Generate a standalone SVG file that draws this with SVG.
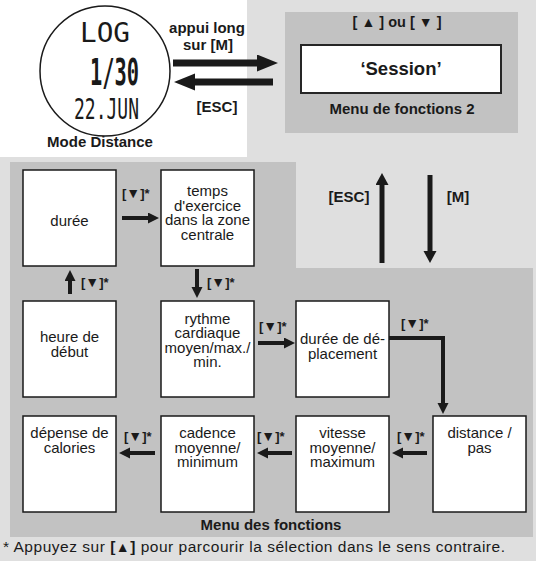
<svg xmlns="http://www.w3.org/2000/svg" width="536" height="561" viewBox="0 0 536 561">
<style>
.t{font-family:"Liberation Sans",Arial,sans-serif;fill:#1a1a1a}
.b{font-weight:bold}
.box{fill:#fff;stroke:#1a1a1a;stroke-width:1.5}
.nt{font-size:15px;text-anchor:middle}
.lb{font-size:13px;font-weight:bold}
.tri{font-size:14px}
.lcd{font-family:"DejaVu Sans Mono","Liberation Mono",monospace;fill:#1a1a1a}
.ar{stroke:#1a1a1a;fill:none}
</style>
<defs>
<marker id="hBig" markerUnits="userSpaceOnUse" markerWidth="22" markerHeight="18" refX="0" refY="8.5" orient="auto"><path d="M0,0 L21,8.5 L0,17 z" fill="#1a1a1a"/></marker>
<marker id="hMid" markerUnits="userSpaceOnUse" markerWidth="13" markerHeight="14" refX="0" refY="6.5" orient="auto"><path d="M0,0 L12,6.5 L0,13 z" fill="#1a1a1a"/></marker>
<marker id="hSm" markerUnits="userSpaceOnUse" markerWidth="12" markerHeight="12" refX="0" refY="5.5" orient="auto"><path d="M0,0 L11,5.5 L0,11 z" fill="#1a1a1a"/></marker>
</defs>

<!-- backgrounds -->
<rect x="0" y="0" width="536" height="561" fill="#dfdfdf"/>
<rect x="0" y="0" width="247" height="157" fill="#fff"/>
<rect x="285" y="12" width="233" height="121" fill="#c2c2c2"/>
<path d="M10,162 H296 V268 H533 V537 H10 Z" fill="#c2c2c2"/>

<!-- watch -->
<g id="watch">
<circle cx="105" cy="71" r="65" fill="#fff" stroke="#1a1a1a" stroke-width="1.5"/>
<text class="lcd" x="80" y="42" font-size="27" textLength="50" lengthAdjust="spacingAndGlyphs">LOG</text>
<text class="lcd" x="90" y="85" font-size="38" font-weight="bold" textLength="49" lengthAdjust="spacingAndGlyphs">1/30</text>
<text class="lcd" x="74" y="119" font-size="29" textLength="65" lengthAdjust="spacingAndGlyphs">22.JUN</text>
<text class="t b" x="100" y="147" font-size="15" text-anchor="middle">Mode Distance</text>
</g>

<!-- menu 2 -->
<g id="menu2">
<text class="t b" x="397" y="27" font-size="14.5" text-anchor="middle">[ <tspan class="tri">▲</tspan> ] ou [ <tspan class="tri">▼</tspan> ]</text>
<rect x="301" y="45" width="200" height="48" fill="#fff" stroke="#262626" stroke-width="2"/>
<text class="t b" x="401" y="75" font-size="18.5" text-anchor="middle">‘Session’</text>
<text class="t b" x="402" y="114" font-size="15" text-anchor="middle">Menu de fonctions 2</text>
</g>

<!-- nodes -->
<g id="duree"><rect class="box" x="23" y="170" width="93" height="96"/><text class="t nt" x="69.5" y="226">durée</text></g>
<g id="temps"><rect class="box" x="161" y="170" width="93" height="96"/><text class="t nt" x="207.5" y="196">temps<tspan x="207.5" dy="14.7">d'exercice</tspan><tspan x="207.5" dy="14.7">dans la zone</tspan><tspan x="207.5" dy="14.7">centrale</tspan></text></g>
<g id="heure"><rect class="box" x="23" y="301" width="93" height="96"/><text class="t nt" x="69.5" y="342">heure de<tspan x="69.5" dy="14.5">début</tspan></text></g>
<g id="rythme"><rect class="box" x="161" y="301" width="93" height="96"/><text class="t nt" x="207.5" y="324">rythme<tspan x="207.5" dy="14.4">cardiaque</tspan><tspan x="207.5" dy="14.4">moyen/max./</tspan><tspan x="207.5" dy="14.4">min.</tspan></text></g>
<g id="deplacement"><rect class="box" x="296" y="301" width="93" height="96"/><text class="t nt" x="342.5" y="344">durée de dé-<tspan x="342.5" dy="14.5">placement</tspan></text></g>
<g id="depense"><rect class="box" x="23" y="416" width="93" height="96"/><text class="t nt" x="69.5" y="438">dépense de<tspan x="69.5" dy="14.7">calories</tspan></text></g>
<g id="cadence"><rect class="box" x="161" y="416" width="93" height="96"/><text class="t nt" x="207.5" y="438">cadence<tspan x="207.5" dy="14.7">moyenne/</tspan><tspan x="207.5" dy="14.7">minimum</tspan></text></g>
<g id="vitesse"><rect class="box" x="296" y="416" width="93" height="96"/><text class="t nt" x="342.5" y="438">vitesse<tspan x="342.5" dy="14.7">moyenne/</tspan><tspan x="342.5" dy="14.7">maximum</tspan></text></g>
<g id="distance"><rect class="box" x="433" y="416" width="93" height="96"/><text class="t nt" x="479.5" y="438">distance /<tspan x="479.5" dy="14.7">pas</tspan></text></g>

<!-- connectors -->
<g id="connectors">
<line class="ar" x1="173" y1="63" x2="257" y2="63" stroke-width="7" marker-end="url(#hBig)"/>
<line class="ar" x1="273" y1="82" x2="195" y2="82" stroke-width="7" marker-end="url(#hBig)"/>
<line class="ar" x1="382" y1="263" x2="382" y2="185" stroke-width="5" marker-end="url(#hMid)"/>
<line class="ar" x1="430" y1="175" x2="430" y2="251" stroke-width="5" marker-end="url(#hMid)"/>
<line class="ar" x1="122" y1="218" x2="148" y2="218" stroke-width="4" marker-end="url(#hSm)"/>
<line class="ar" x1="70" y1="294" x2="70" y2="281" stroke-width="4" marker-end="url(#hSm)"/>
<line class="ar" x1="197" y1="269" x2="197" y2="287" stroke-width="4" marker-end="url(#hSm)"/>
<line class="ar" x1="258" y1="343" x2="284" y2="343" stroke-width="4" marker-end="url(#hSm)"/>
<polyline class="ar" points="389,338 443,338 443,403" stroke-width="4" marker-end="url(#hSm)"/>
<line class="ar" x1="427" y1="453" x2="403" y2="453" stroke-width="4" marker-end="url(#hSm)"/>
<line class="ar" x1="292" y1="453" x2="268" y2="453" stroke-width="4" marker-end="url(#hSm)"/>
<line class="ar" x1="155" y1="453" x2="130" y2="453" stroke-width="4" marker-end="url(#hSm)"/>
</g>

<!-- labels -->
<g id="labels">
<text class="t b" x="207" y="33" font-size="15" text-anchor="middle">appui long</text>
<text class="t b" x="208" y="50" font-size="15" text-anchor="middle">sur [M]</text>
<text class="t b" x="217" y="112" font-size="15" text-anchor="middle">[ESC]</text>
<text class="t b" x="349" y="202" font-size="15" text-anchor="middle">[ESC]</text>
<text class="t b" x="458" y="202" font-size="15" text-anchor="middle">[M]</text>
<text class="t lb" x="122" y="198">[<tspan class="tri">▼</tspan>]*</text>
<text class="t lb" x="81" y="287">[<tspan class="tri">▼</tspan>]*</text>
<text class="t lb" x="207" y="287">[<tspan class="tri">▼</tspan>]*</text>
<text class="t lb" x="259" y="331">[<tspan class="tri">▼</tspan>]*</text>
<text class="t lb" x="401" y="328">[<tspan class="tri">▼</tspan>]*</text>
<text class="t lb" x="124" y="441">[<tspan class="tri">▼</tspan>]*</text>
<text class="t lb" x="257" y="441">[<tspan class="tri">▼</tspan>]*</text>
<text class="t lb" x="397" y="441">[<tspan class="tri">▼</tspan>]*</text>
<text class="t b" x="271" y="530" font-size="15" text-anchor="middle">Menu des fonctions</text>
<text class="t" x="3" y="552" font-size="15.5" textLength="502">* Appuyez sur <tspan font-weight="bold">[<tspan class="tri">▲</tspan>]</tspan> pour parcourir la sélection dans le sens contraire.</text>
</g>
</svg>
